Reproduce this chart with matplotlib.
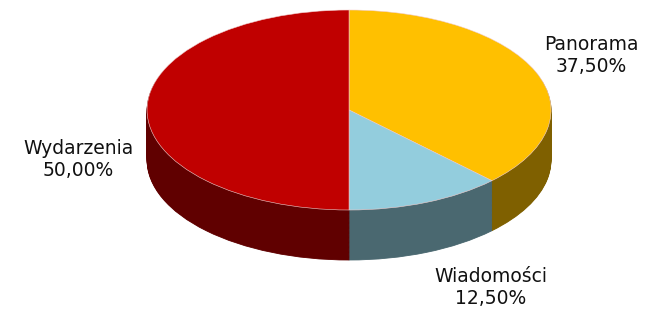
import numpy as np
import matplotlib
matplotlib.use("Agg")
import matplotlib.pyplot as plt

# Data
names = ["Panorama", "Wiadomości", "Wydarzenia"]
shares = [37.5, 12.5, 50.0]
top_colors = ["#FFC000", "#93CDDD", "#C00000"]
side_colors = ["#7F6000", "#4A6870", "#600000"]

# label positions in data units (x: radius, y: squashed radius)
label_xy = [(1.20, 0.55), (0.70, -1.77), (-1.34, -0.50)]

depth = 0.5

fig = plt.figure(figsize=(6.48, 3.18), dpi=100)
ax = fig.add_axes([0, 0, 1, 1])

# side wall: stack of darker pies shifted downwards
for d in np.linspace(depth, 0.01, 60):
    wedges, _ = ax.pie(shares, colors=side_colors, startangle=90,
                       counterclock=False, center=(0, -d), radius=1,
                       wedgeprops=dict(linewidth=0.6))
    for w in wedges:
        w.set_edgecolor(w.get_facecolor())

# top face
ax.pie(shares, colors=top_colors, startangle=90, counterclock=False,
       center=(0, 0), radius=1,
       wedgeprops=dict(linewidth=0.4, edgecolor="#F4D0D0"))

for name, v, (x, y) in zip(names, shares, label_xy):
    txt = f"{name}\n{v:.2f}%".replace(".", ",")
    ax.text(x, y, txt, ha="center", va="center", fontsize=13.5,
            family="DejaVu Sans", linespacing=1.2, color="#111111")

# squash the pie into an ellipse
ax.set_aspect("auto")
ax.set_xlim(-1.728, 1.480)
ax.set_ylim(-2.08, 1.10)
ax.axis("off")

fig.savefig("out.png", dpi=100)
